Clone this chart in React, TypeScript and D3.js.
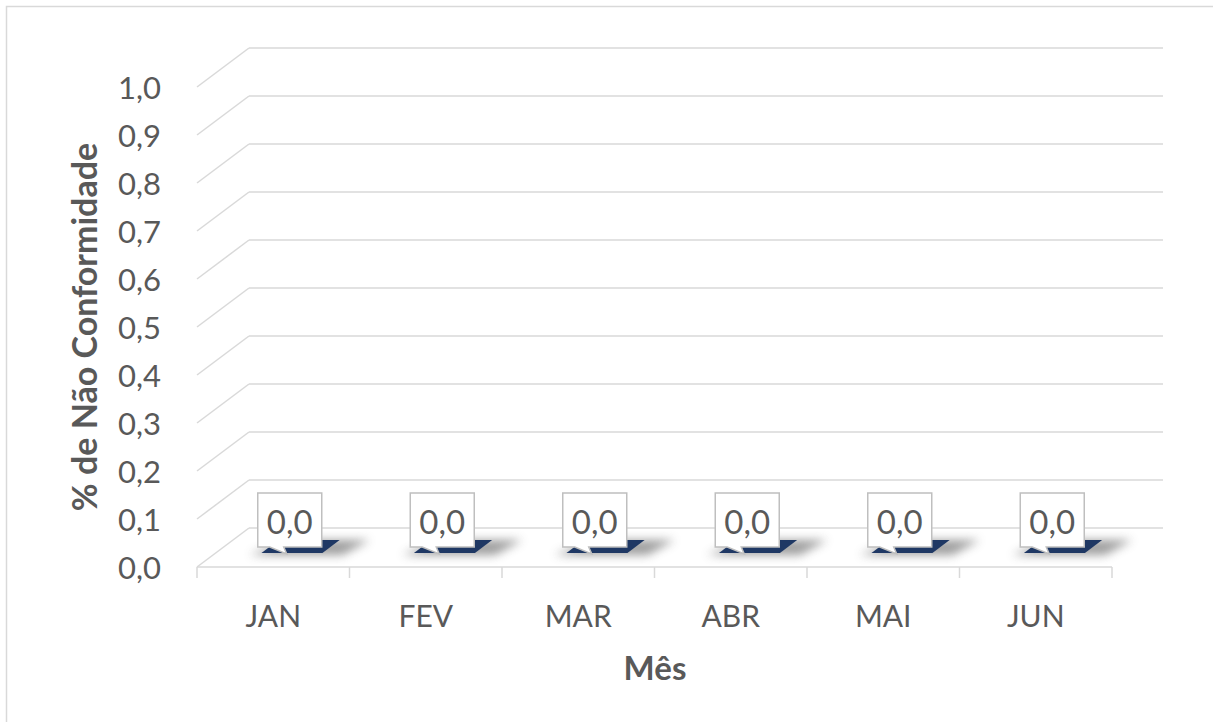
import React from "react";
import * as d3 from "d3";

const categories = ["JAN", "FEV", "MAR", "ABR", "MAI", "JUN"];
const values = [0, 0, 0, 0, 0, 0];
const yTicks = [0, 0.1, 0.2, 0.3, 0.4, 0.5, 0.6, 0.7, 0.8, 0.9, 1.0];
const yTitle = "% de Não Conformidade";
const xTitle = "Mês";

const W = 1213;
const H = 722;
const FONT = "Lato, 'Open Sans', sans-serif";
const TEXT = "#595959";
const GRID = "#d9d9d9";
const BAR = "#1f3864";

export default function App() {
  const x = d3.scaleBand<string>().domain(categories).range([197, 1112]).padding(0);
  const y = d3.scaleLinear().domain([0, 1]).range([567, 87]);
  const DX = 52;
  const DY = -39;
  const backRight = 1163;
  const fmt = (v: number) => d3.format(".1f")(v).replace(".", ",");
  const bw = x.bandwidth() * 0.4;
  const d0 = 0.36;
  const d1 = 0.69;

  return (
    <svg
      width={W}
      height={H}
      style={{ position: "absolute", left: 0, top: 0, background: "#fff" }}
      fontFamily={FONT}
    >
      <defs>
        <filter id="blur" x="-50%" y="-100%" width="200%" height="300%">
          <feGaussianBlur stdDeviation="5" />
        </filter>
      </defs>
      <rect x={6.5} y={6.5} width={1230} height={740} fill="#fff" stroke={GRID} strokeWidth={1.5} />

      {/* gridlines */}
      {yTicks.map((t) => {
        const yf = y(t);
        return (
          <g key={t}>
            <line x1={197} y1={yf} x2={197 + DX} y2={yf + DY} stroke={GRID} strokeWidth={1.5} />
            <line x1={197 + DX} y1={yf + DY} x2={backRight} y2={yf + DY} stroke={GRID} strokeWidth={1.5} />
            <text
              x={161}
              y={yf + 12}
              textAnchor="end"
              fontSize={31}
              fill={TEXT}
            >
              {fmt(t)}
            </text>
          </g>
        );
      })}

      {/* category axis */}
      <line x1={197} y1={y(0)} x2={1112} y2={y(0)} stroke={GRID} strokeWidth={1.5} />
      {[...categories.map((c) => x(c) as number), 1112].map((p, i) => (
        <line key={i} x1={p} y1={y(0)} x2={p} y2={y(0) + 11} stroke={GRID} strokeWidth={1.5} />
      ))}
      {categories.map((c) => (
        <text
          key={c}
          x={(x(c) as number) + x.bandwidth() / 2}
          y={627}
          textAnchor="middle"
          fontSize={30}
          fill={TEXT}
        >
          {c}
        </text>
      ))}

      {/* bars */}
      {categories.map((c, i) => {
        const cx = (x(c) as number) + x.bandwidth() / 2;
        const xl = cx - bw / 2;
        const xr = cx + bw / 2;
        const v = values[i];
        const yt = y(v);
        const yb = y(0);
        const p = (xx: number, d: number, yy: number) => [xx + DX * d, yy + DY * d];
        const top = [p(xl, d0, yt), p(xr, d0, yt), p(xr, d1, yt), p(xl, d1, yt)];
        const front = [p(xl, d0, yt), p(xr, d0, yt), p(xr, d0, yb), p(xl, d0, yb)];
        const shadow = [
          [xl - 12 + DX * d0, yb + DY * d0 + 2],
          [xr + 20 + DX * d0, yb + DY * d0 + 2],
          [xr + 30 + DX * d1, yb + DY * d1],
          [xl + 10 + DX * d1, yb + DY * d1],
        ];
        const pts = (a: number[][]) => a.map((q) => q.join(",")).join(" ");
        const bx = cx + 16.5;
        const boxW = 64;
        const boxH = 54;
        const boxBottom = yb + DY * d0 - 6;
        const boxTop = boxBottom - boxH;
        const bl = bx - boxW / 2;
        return (
          <g key={c}>
            <polygon points={pts(shadow)} fill="#7f7f7f" opacity={0.75} filter="url(#blur)" />
            {v > 0 && <polygon points={pts(front)} fill={BAR} />}
            <polygon points={pts(top)} fill={BAR} />
            <path
              d={`M${bl},${boxTop} H${bl + boxW} V${boxBottom} H${bl + 26} L${bl + 29},${boxBottom + 7} L${bl + 12},${boxBottom} H${bl} Z`}
              fill="#fff"
              stroke="#bfbfbf"
              strokeWidth={1.5}
            />
            <text x={bx} y={boxBottom - 13} textAnchor="middle" fontSize={33} fill={TEXT}>
              {fmt(v)}
            </text>
          </g>
        );
      })}

      {/* axis titles */}
      <text
        transform={`translate(97,327) rotate(-90)`}
        textAnchor="middle"
        fontSize={34}
        fontWeight="bold"
        fill={TEXT}
      >
        {yTitle}
      </text>
      <text x={655} y={680} textAnchor="middle" fontSize={33} fontWeight="bold" fill={TEXT}>
        {xTitle}
      </text>
    </svg>
  );
}
